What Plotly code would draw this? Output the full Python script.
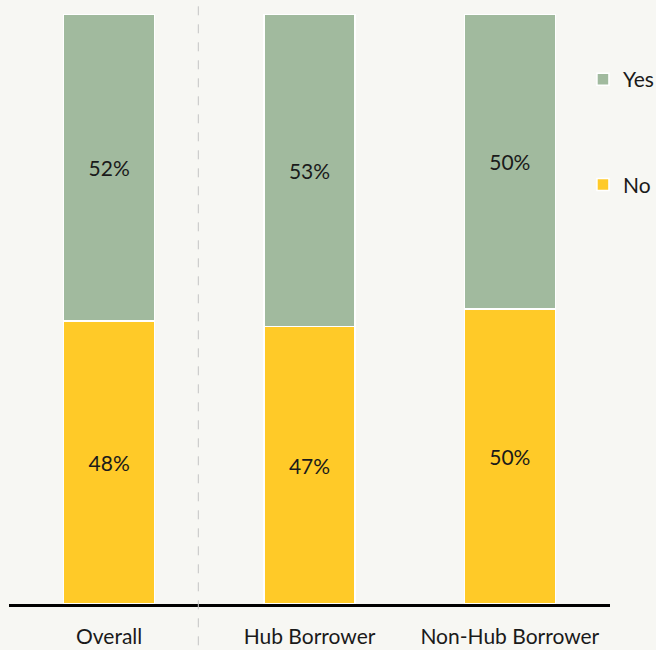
import plotly.graph_objects as go

# Share of respondents by group, stacked to 100%
categories = ["Overall", "Hub Borrower", "Non-Hub Borrower"]
no_share = [48, 47, 50]
yes_share = [52, 53, 50]

BG = "#F7F7F3"
YES_COLOR = "#A1BA9E"
NO_COLOR = "#FFCA28"
FONT = "Lato"
FS = 21

fig = go.Figure()

fig.add_trace(go.Bar(
    name="No",
    x=categories,
    y=no_share,
    marker=dict(color=NO_COLOR, line=dict(color="white", width=1.5)),
    text=[f"{v}%" for v in no_share],
    textposition="inside",
    insidetextanchor="middle",
    textfont=dict(family=FONT, size=FS, color="#1a1a1a"),
    width=0.455,
    legendgroup="no",
    legendrank=2,
))
fig.add_trace(go.Bar(
    name="Yes",
    x=categories,
    y=yes_share,
    marker=dict(color=YES_COLOR, line=dict(color="white", width=1.5)),
    text=[f"{v}%" for v in yes_share],
    textposition="inside",
    insidetextanchor="middle",
    textfont=dict(family=FONT, size=FS, color="#1a1a1a"),
    width=0.455,
    legendgroup="yes",
    legendrank=1,
))

# Dashed divider between the overall bar and the borrower breakdown
fig.add_shape(
    type="line",
    xref="x", yref="paper",
    x0=0.445, x1=0.445, y0=-0.07, y1=1.015,
    line=dict(color="#C4C4C4", width=1, dash="dash"),
)

fig.update_layout(
    barmode="stack",
    width=656,
    height=650,
    paper_bgcolor=BG,
    plot_bgcolor=BG,
    margin=dict(l=9, r=46, t=14, b=46, autoexpand=False),
    font=dict(family=FONT, size=FS, color="#1a1a1a"),
    showlegend=True,
    legend=dict(
        x=0.955, xanchor="left",
        y=0.9235, yanchor="top",
        traceorder="grouped",
        tracegroupgap=75,
        bgcolor="rgba(0,0,0,0)",
        font=dict(family=FONT, size=FS, color="#1a1a1a"),
    ),
    xaxis=dict(
        range=[-0.5, 2.5],
        showline=True,
        linecolor="black",
        linewidth=2.5,
        showgrid=False,
        zeroline=False,
        ticks="",
        ticklabelstandoff=12,
        tickfont=dict(family=FONT, size=FS, color="#1a1a1a"),
    ),
    yaxis=dict(
        range=[0, 100],
        visible=False,
        showgrid=False,
        zeroline=False,
    ),
)

fig.write_html("out.html")
